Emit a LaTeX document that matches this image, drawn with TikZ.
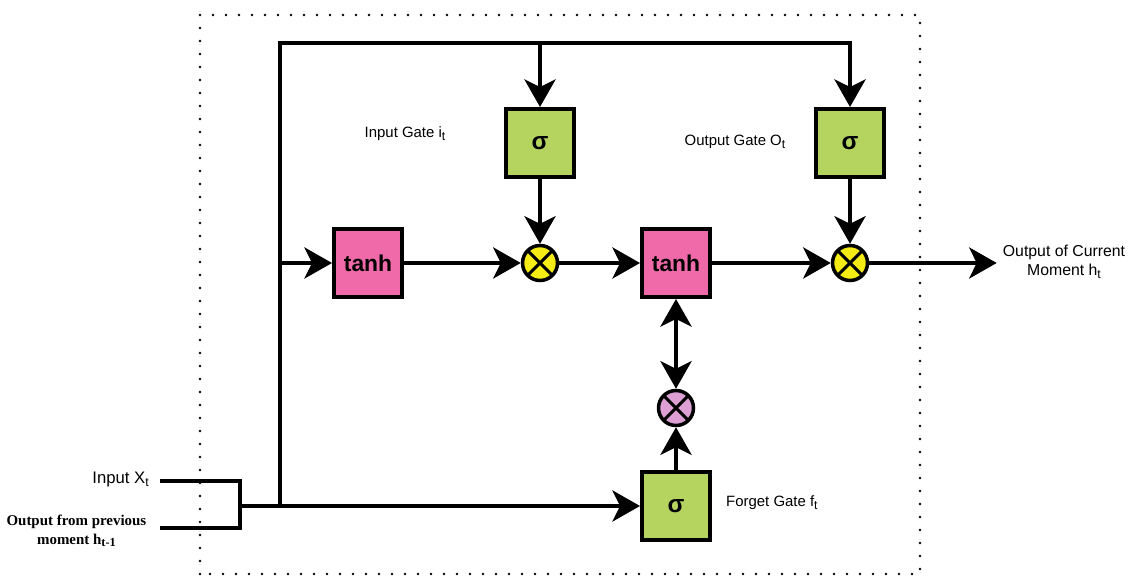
\documentclass[tikz,border=0pt]{standalone}
\usepackage{fontspec}
\setmainfont{Liberation Sans}
\newfontfamily\serifschrift{Liberation Serif}
\usetikzlibrary{arrows.meta}

\definecolor{sigmagruen}{RGB}{181,211,95}
\definecolor{tanhpink}{RGB}{240,106,170}
\definecolor{multgelb}{RGB}{245,235,20}
\definecolor{multrosa}{RGB}{222,160,212}

\tikzset{
  leitung/.style={line width=0.08cm},
  spitze/.tip={Stealth[length=0.55cm,width=0.62cm,inset=0.15cm]},
  pfeil/.style={leitung,-spitze},
  doppelpfeil/.style={leitung,spitze-spitze},
  sigmabox/.style={draw,line width=0.08cm,fill=sigmagruen,minimum size=1.36cm,inner sep=0pt,
    font=\fontsize{14}{16}\selectfont\bfseries},
  tanhbox/.style={sigmabox,fill=tanhpink,font=\fontsize{13}{15}\selectfont\bfseries},
  mult/.style={circle,draw,line width=0.07cm,fill=multgelb,minimum size=0.7cm,inner sep=0pt,
    path picture={\draw[line width=0.06cm]
      (path picture bounding box.north west) -- (path picture bounding box.south east)
      (path picture bounding box.north east) -- (path picture bounding box.south west);}},
  beschriftung/.style={font=\fontsize{8.5}{10}\selectfont}
}

\newcommand{\tief}[1]{\raisebox{-0.35ex}{\fontsize{7}{8}\selectfont #1}}

\begin{document}
\begin{tikzpicture}
  \useasboundingbox (0,0) rectangle (22.58,11.52);

  % Rahmen
  \draw[line width=0.055cm,dash pattern=on 0pt off 0.26cm,line cap=round] (4.0,0.04) rectangle (18.4,11.22);

  % Bausteine
  \node[sigmabox] (sigI) at (10.8,8.66) {σ};
  \node[sigmabox] (sigO) at (17.0,8.66) {σ};
  \node[tanhbox] (tanhI) at (7.36,6.26) {tanh};
  \node[tanhbox] (tanhC) at (13.52,6.26) {tanh};
  \node[mult] (multI) at (10.8,6.26) {};
  \node[mult] (multO) at (17.0,6.26) {};
  \node[mult,fill=multrosa] (multF) at (13.52,3.36) {};
  \node[sigmabox] (sigF) at (13.52,1.4) {σ};

  % Beschriftungen
  \node[beschriftung] (labI) at (8.1,8.84) {Input Gate i\tief{t}};
  \node[beschriftung] (labO) at (14.7,8.68) {Output Gate O\tief{t}};
  \node[beschriftung,anchor=west] (labF) at (14.4,1.46) {Forget Gate f\tief{t}};
  \node[align=center,font=\fontsize{9}{10.5}\selectfont] (ausgang) at (21.28,6.28)
    {Output of Current\\Moment h\tief{t}};
  \node[anchor=east,font=\fontsize{9.5}{11}\selectfont] (eingX) at (3.1,1.93) {Input X\tief{t}};
  \node[anchor=east,align=center,font=\serifschrift\bfseries\fontsize{8.5}{10.5}\selectfont] (eingH) at (3.05,0.9)
    {Output from previous\\moment h\tief{t-1}};

  % Hilfspunkte
  \coordinate (xEnde) at (3.2,1.9);
  \coordinate (hEnde) at (3.2,0.96);
  \coordinate (xEck) at (4.8,1.9);
  \coordinate (hEck) at (4.8,0.96);
  \coordinate (knoten) at (4.8,1.4);
  \coordinate (abzweig) at (5.6,1.4);
  \coordinate (oben) at (5.6,10.66);

  % Verbindungen
  \draw[leitung] (xEnde) -- (xEck) -- (hEck) -- (hEnde);
  \draw[pfeil] (knoten) -- (sigF);
  \draw[pfeil] (abzweig) -- (oben) -- (oben -| sigO) -- (sigO);
  \draw[pfeil] (oben -| sigI) -- (sigI);
  \draw[pfeil] (abzweig |- tanhI) -- (tanhI);
  \draw[pfeil] (tanhI) -- (multI);
  \draw[pfeil] (sigI) -- (multI);
  \draw[pfeil] (multI) -- (tanhC);
  \draw[pfeil] (tanhC) -- (multO);
  \draw[pfeil] (sigO) -- (multO);
  \draw[pfeil] (multO) -- (multO -| ausgang.west);
  \draw[doppelpfeil] (multF) -- (tanhC);
  \draw[pfeil] (sigF) -- (multF);
\end{tikzpicture}
\end{document}
